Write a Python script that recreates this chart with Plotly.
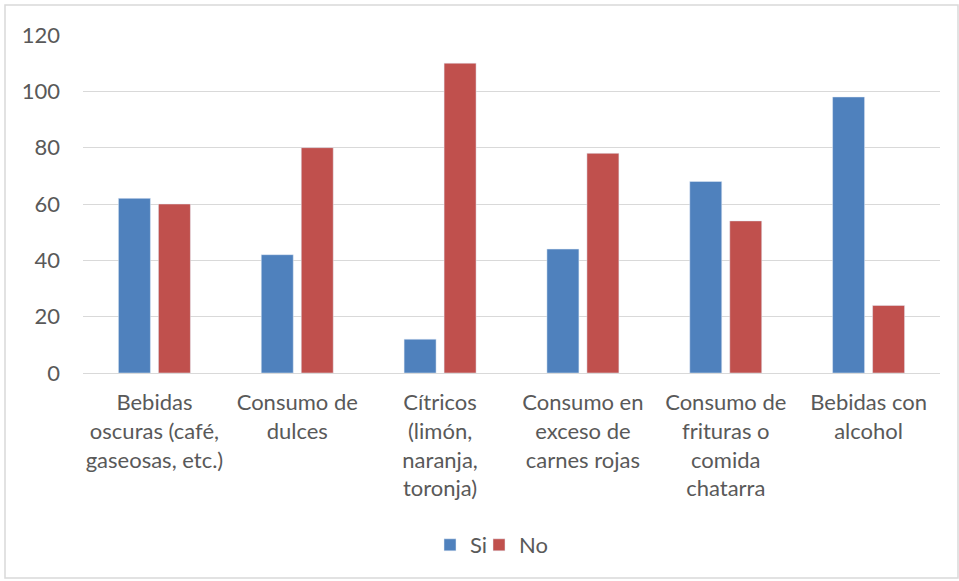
import plotly.graph_objects as go

categories = [
    "Bebidas<br>oscuras (café,<br>gaseosas, etc.)",
    "Consumo de<br>dulces",
    "Cítricos<br>(limón,<br>naranja,<br>toronja)",
    "Consumo en<br>exceso de<br>carnes rojas",
    "Consumo de<br>frituras o<br>comida<br>chatarra",
    "Bebidas con<br>alcohol",
]
si_values = [62, 42, 12, 44, 68, 98]
no_values = [60, 80, 110, 78, 54, 24]
y_ticks = [0, 20, 40, 60, 80, 100, 120]

W, H = 959, 581
L, R, T, B = 83, 19, 35, 208
pw, ph = W - L - R, H - T - B

font_family = "Lato, 'Open Sans', sans-serif"
text_color = "#595959"
fs = 22

fig = go.Figure()
fig.add_trace(go.Bar(name="Si", x=categories, y=si_values, marker_color="#4F81BD",
                     legend="legend"))
fig.add_trace(go.Bar(name="No", x=categories, y=no_values, marker_color="#C0504D",
                     legend="legend2"))

legend_y = (T + ph - 545) / ph
legend_common = dict(orientation="h", xanchor="left", y=legend_y, yanchor="middle",
                     font=dict(size=fs, color=text_color), itemwidth=30,
                     bgcolor="rgba(0,0,0,0)")

fig.update_layout(
    width=W, height=H,
    margin=dict(l=L, r=R, t=T, b=B, pad=0),
    paper_bgcolor="white", plot_bgcolor="white",
    barmode="group", bargap=0.44, bargroupgap=0.2,
    font=dict(family=font_family, size=fs, color=text_color),
    showlegend=True,
    legend=dict(x=(430 - L) / pw, **legend_common),
    legend2=dict(x=(479 - L) / pw, **legend_common),
    xaxis=dict(showgrid=False, showline=True, linecolor="#D9D9D9", linewidth=1,
               ticks="", tickangle=0, ticklabelstandoff=10,
               tickfont=dict(size=fs, color=text_color)),
    yaxis=dict(range=[0, 120], tickvals=y_ticks, showgrid=True, gridcolor="#D9D9D9",
               gridwidth=1, zeroline=False, showline=False, ticks="",
               ticklabelstandoff=22, tickfont=dict(size=fs, color=text_color)),
    shapes=[dict(type="rect", xref="paper", yref="paper",
                 x0=(5 - L) / pw, x1=(W - 1 - L) / pw,
                 y0=(T + ph - (H - 3)) / ph, y1=(T + ph - 5) / ph,
                 line=dict(color="#D9D9D9", width=1.5), fillcolor="rgba(0,0,0,0)",
                 layer="below")],
)

fig.write_html("out.html")
